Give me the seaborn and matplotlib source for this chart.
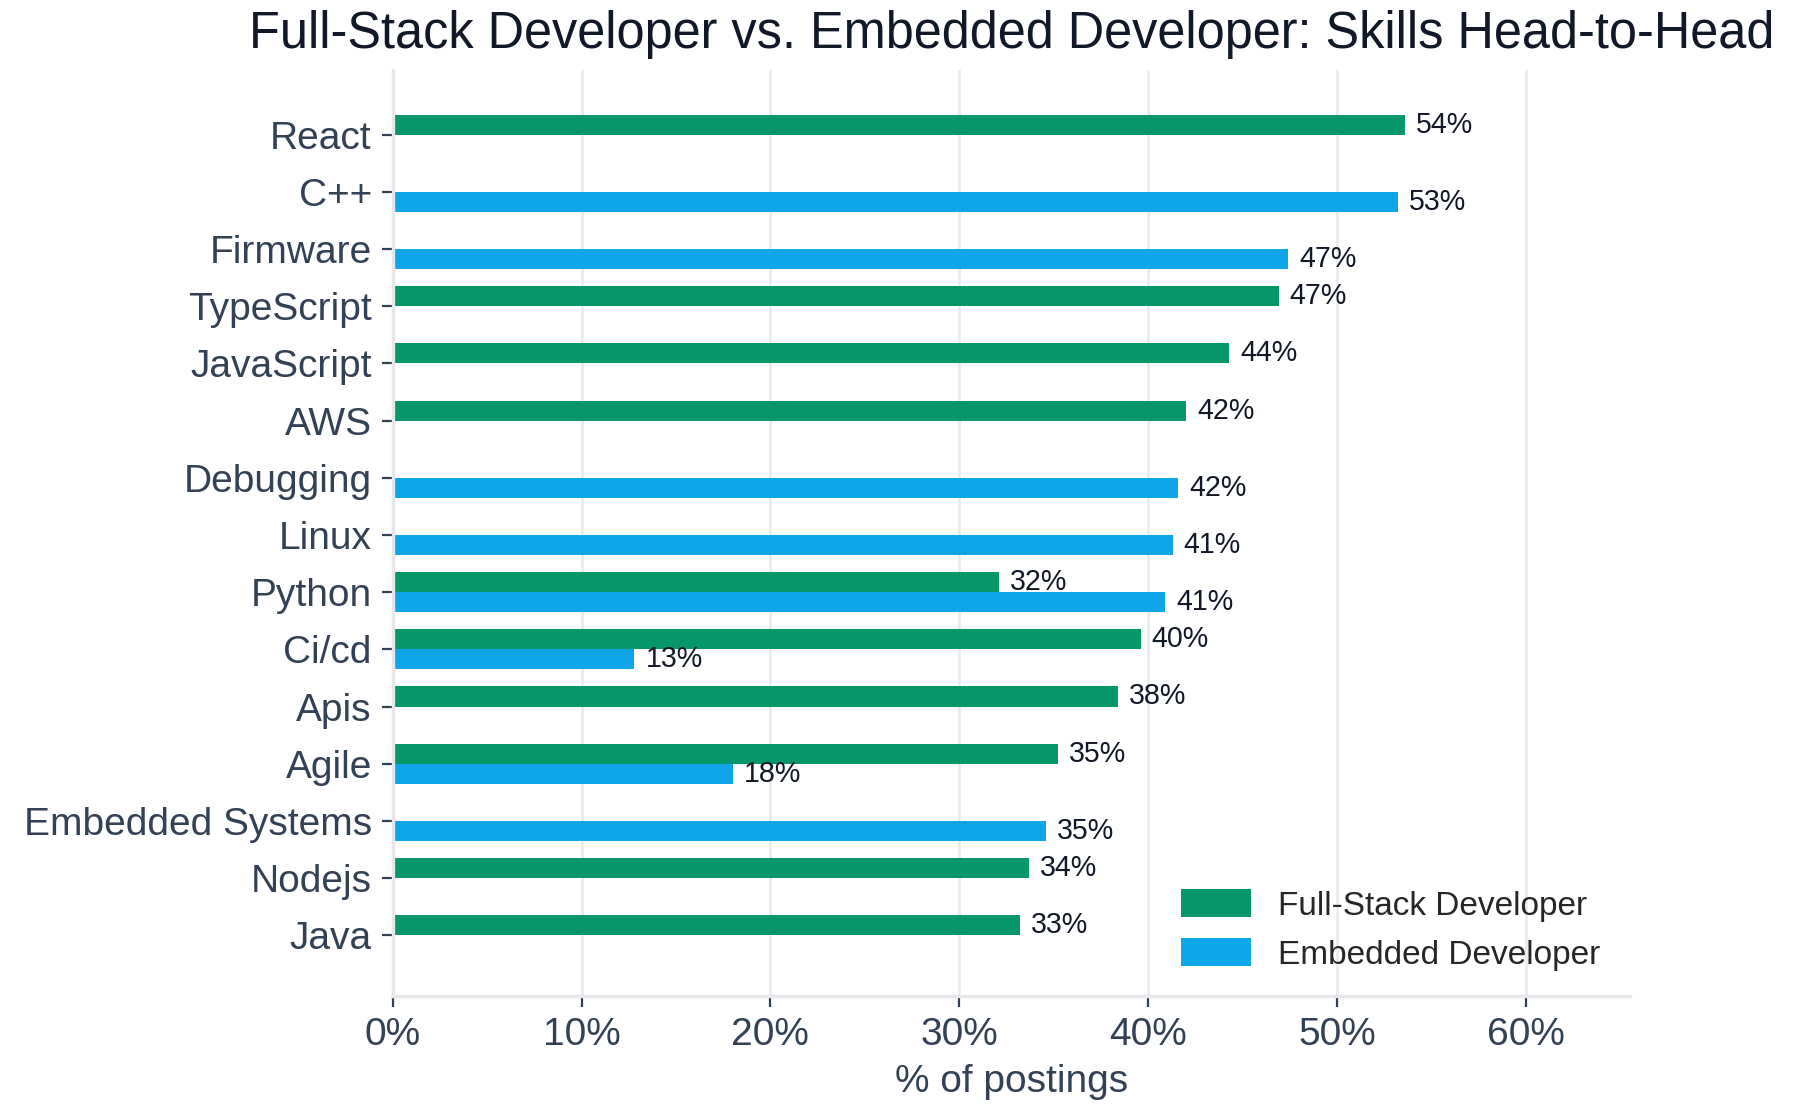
import matplotlib
matplotlib.use('Agg')
import matplotlib.pyplot as plt
import pandas as pd
import seaborn as sns

# 技能列表（按最大占比排序）
skills = ['React', 'C++', 'Firmware', 'TypeScript', 'JavaScript', 'AWS', 'Debugging', 'Linux',
          'Python', 'Ci/cd', 'Apis', 'Agile', 'Embedded Systems', 'Nodejs', 'Java']
# 两类岗位各技能出现比例(%)，None 表示该岗位无此技能
fullstack = [53.6, None, None, 46.9, 44.3, 42.0, None, None, 32.1, 39.6, 38.4, 35.2, None, 33.7, 33.2]
embedded = [None, 53.2, 47.4, None, None, None, 41.6, 41.3, 40.9, 12.8, None, 18.0, 34.6, None, None]
roles = ['Full-Stack Developer', 'Embedded Developer']
colors = ['#059669', '#0ea5e9']

rows = []
for role, vals in zip(roles, [fullstack, embedded]):
    for s, v in zip(skills, vals):
        if v is not None:
            rows.append({'skill': s, 'role': role, 'pct': v})
df = pd.DataFrame(rows)

sns.set_style('white')
plt.rcParams['font.family'] = ['Liberation Sans', 'DejaVu Sans']

fig = plt.figure(figsize=(8.965, 5.595), dpi=200)
ax = fig.add_axes([0.219, 0.11, 0.69, 0.827])
sns.barplot(data=df, y='skill', x='pct', hue='role', order=skills, hue_order=roles,
            palette=colors, width=0.7, dodge=True, ax=ax, saturation=1, errorbar=None,
            linewidth=0)

for c in ax.containers:
    ax.bar_label(c, fmt='%.0f%%', padding=4, fontsize=10.3, color='#111827')

ax.set_xlim(0, 65.5)
ax.set_ylim(15.06, -1.12)
ax.set_xticks(range(0, 61, 10))
ax.set_xticklabels(['%d%%' % t for t in range(0, 61, 10)])
ax.xaxis.grid(True, color='#ebebeb', linewidth=1)
ax.set_axisbelow(True)
for side in ['top', 'right']:
    ax.spines[side].set_visible(False)
for side in ['left', 'bottom']:
    ax.spines[side].set_color('#e5e7eb')
    ax.spines[side].set_linewidth(1.2)
ax.tick_params(axis='both', labelsize=14, colors='#334155', length=4, width=0.8, left=True, bottom=True)
ax.set_xlabel('% of postings', fontsize=14, color='#334155')
ax.set_ylabel('')
ax.set_title('Full-Stack Developer vs. Embedded Developer: Skills Head-to-Head',
             fontsize=18.2, color='#111827', pad=8)
ax.legend(loc='lower right', bbox_to_anchor=(1.0, -0.005), frameon=False, fontsize=12,
          handlelength=2.1, handleheight=0.9, labelspacing=0.5, title=None)

fig.savefig('out.png', dpi=200)
